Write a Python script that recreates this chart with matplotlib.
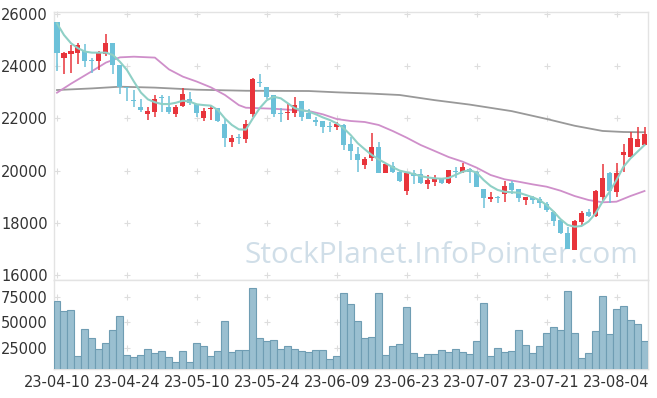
"""
Candlestick chart with moving averages and volume panel
"""

import matplotlib
matplotlib.use("Agg")
import matplotlib.pyplot as plt
import numpy as np

# trading days, one entry per candle
opens = [25700, 24300, 24480, 24520, 24570, 24250, 24210, 24460, 24890, 24050,
         23190, 22710, 22430, 22180, 22260, 22830, 22430, 22180, 22490, 22740,
         22540, 22030, 22350, 22390, 21790, 21080, 21270, 21200, 22160, 23380,
         23190, 22900, 22190, 22190, 22220, 22670, 22190, 21940, 21900, 21710,
         21690, 21750, 21020, 20640, 20210, 20500, 20890, 19920, 20190, 19960,
         19230, 19900, 19860, 19490, 19580, 19680, 19540, 19980, 19960, 20050,
         19960, 19300, 18910, 19000, 19100, 19540, 19300, 18870, 18980, 18910,
         18720, 18430, 18110, 17600, 16960, 18040, 18430, 18260, 18980, 19920,
         19190, 20600, 20530, 20920, 20980]
highs = [25700, 24550, 24810, 24890, 24850, 24330, 24570, 25220, 24900, 24050,
         23215, 23090, 22730, 22430, 22900, 22900, 22860, 22510, 23150, 23020,
         22560, 22390, 22510, 22390, 22000, 21360, 21400, 21940, 23550, 23690,
         23220, 22900, 22410, 22550, 22810, 22680, 22360, 22070, 21910, 21870,
         21870, 21790, 21300, 20890, 20530, 21430, 21110, 20280, 20320, 19970,
         19920, 20020, 20050, 19830, 19830, 19700, 20040, 20150, 20280, 20090,
         19970, 19300, 19170, 19010, 19610, 19600, 19300, 18990, 19030, 18980,
         18780, 18440, 18150, 17830, 18100, 18470, 18520, 19260, 20240, 19940,
         20280, 21020, 21490, 21680, 21690]
lows = [23800, 23700, 23730, 24080, 23980, 23730, 23850, 24390, 23690, 22920,
        22680, 22450, 22250, 21940, 22070, 22260, 22160, 22040, 22450, 22510,
        22070, 21910, 21940, 21880, 20920, 20890, 21020, 21050, 22040, 23190,
        22730, 22040, 21850, 21940, 22040, 21910, 21970, 21720, 21430, 21490,
        21560, 20790, 20410, 19960, 20050, 20370, 19920, 19900, 19920, 19570,
        19070, 19490, 19490, 19300, 19410, 19490, 19490, 19710, 19920, 19510,
        19380, 18560, 18790, 18750, 18790, 19100, 18790, 18680, 18720, 18560,
        18430, 17890, 17590, 16990, 16950, 17880, 18240, 18240, 18810, 18770,
        19000, 19960, 20510, 20890, 20980]
closes = [24500, 24500, 24580, 24820, 24210, 24210, 24530, 24890, 24030, 23190,
          23150, 22680, 22320, 22280, 22740, 22790, 22260, 22430, 22940, 22580,
          22220, 22280, 22410, 21910, 21240, 21260, 21250, 21790, 23510, 23340,
          22830, 22170, 22160, 22260, 22510, 22070, 21990, 21860, 21680, 21690,
          21770, 20980, 20760, 20410, 20450, 20890, 19920, 20240, 19960, 19610,
          19900, 19810, 19510, 19640, 19710, 19540, 20010, 19930, 20150, 19930,
          19390, 18960, 18990, 18960, 19410, 19260, 18960, 18980, 18870, 18750,
          18490, 18070, 17600, 17000, 18070, 18390, 18260, 19220, 19730, 19230,
          19920, 20700, 21240, 21210, 21400]
volumes = [71600, 61100, 62100, 16500, 43200, 34300, 23400, 29400, 42300, 56200,
           17500, 15500, 17500, 23400, 19400, 21400, 15500, 10500, 21400, 10500,
           29400, 26400, 16500, 21400, 51200, 20400, 22400, 22400, 83900, 34300,
           31300, 32300, 23400, 26400, 23400, 21400, 20400, 22400, 22400, 13500,
           16500, 79000, 68100, 51200, 34300, 35300, 79000, 17500, 26400, 28400,
           65100, 19400, 15500, 18500, 18500, 22400, 20400, 23400, 20700, 18500,
           31300, 69000, 16500, 24400, 20700, 21400, 42300, 27400, 19400, 26400,
           39300, 45200, 42300, 81000, 39300, 14500, 19400, 41300, 76000, 38300,
           63100, 66100, 52200, 48200, 31300]

# moving averages
ma5 = [25640, 25195, 24880, 24690, 24560, 24520, 24520, 24520, 24430, 24170,
       23855, 23410, 22990, 22730, 22620, 22550, 22550, 22600, 22680, 22640,
       22540, 22510, 22490, 22320, 22000, 21750, 21580, 21570, 22000, 22400,
       22700, 22830, 22770, 22580, 22390, 22320, 22260, 22160, 22040, 21940,
       21810, 21620, 21360, 21050, 20820, 20600, 20430, 20280, 20130, 20000,
       19935, 19870, 19790, 19740, 19706, 19690, 19720, 19840, 19960, 20020,
       19920, 19640, 19410, 19260, 19190, 19170, 19155, 19070, 18980, 18870,
       18680, 18430, 18140, 17920, 17850, 17880, 18050, 18360, 18810, 19190,
       19640, 20150, 20470, 20725, 20980]
ma20_idx = [0, 2, 5, 7, 9, 11, 14, 16, 18, 20, 22, 24, 26, 27, 31, 36, 38, 40,
            42, 44, 46, 48, 50, 52, 54, 56, 58, 60, 62, 64, 66, 68, 70, 72, 74,
            76, 78, 80, 82, 84]
ma20 = [22985, 23330, 23810, 24140, 24340, 24365, 24330, 23880, 23600, 23410,
        23190, 22900, 22510, 22410, 22370, 22284, 22158, 21977, 21901, 21863,
        21748, 21518, 21262, 20981, 20752, 20520, 20343, 20113, 19832, 19667,
        19576, 19474, 19385, 19231, 19028, 18874, 18786, 18811, 19028, 19219]
ma120_idx = [0, 5, 9, 14, 20, 27, 36, 40, 45, 49, 54, 59, 65, 70, 74, 78, 81, 84]
ma120 = [23088, 23150, 23215, 23180, 23100, 23060, 23050, 23000, 22950, 22897,
         22700, 22530, 22280, 21980, 21720, 21520, 21480, 21470]

tick_pos = [0, 10, 20, 30, 40, 50, 60, 70, 80]
tick_labels = ["23-04-10", "23-04-24", "23-05-10", "23-05-24", "23-06-09",
               "23-06-23", "23-07-07", "23-07-21", "23-08-04"]
price_ticks = [16000, 18000, 20000, 22000, 24000, 26000]
vol_ticks = [25000, 50000, 75000]

RED = "#e8343b"
BLUE = "#6cc1d9"
FRAME = "#e3e3e3"

fig = plt.figure(figsize=(6.57, 3.98), dpi=100)
ax = fig.add_axes([53.5 / 657, 1 - 280 / 398, (648 - 53.5) / 657, 268 / 398])
axv = fig.add_axes([53.5 / 657, 1 - 369 / 398, (648 - 53.5) / 657, 89 / 398])

x = np.arange(len(closes))
o = np.array(opens)
c = np.array(closes)
up = c >= o
colors = np.where(up, RED, BLUE)

# candles
ax.vlines(x, lows, highs, colors=colors, linewidth=1.1, zorder=3)
body_low = np.minimum(o, c)
body_h = np.maximum(np.abs(c - o), 30)
ax.bar(x, body_h, bottom=body_low, width=0.72, color=colors, zorder=4)

# moving averages
ax.plot(ma120_idx, ma120, color="#999999", linewidth=1.3, zorder=2)
ax.plot(ma20_idx, ma20, color="#cf8fca", linewidth=1.3, zorder=2)
ax.plot(x, ma5, color="#8fd0c6", linewidth=1.5, zorder=5)

ax.set_xlim(-0.5, 84.5)
ax.set_ylim(15810, 26077)
ax.set_yticks(price_ticks)
ax.set_xticks([])

# watermark
ax.text(0.652, 0.09, "StockPlanet.InfoPointer.com", transform=ax.transAxes,
        ha="center", va="center", fontsize=21.5, family="Open Sans",
        color="#cbdbe6", alpha=0.9, zorder=1)

# volume bars
axv.bar(x, volumes, width=1.0, color="#9abfd0", edgecolor="#6f9db3",
        linewidth=0.8, zorder=3)
axv.set_xlim(-0.5, 84.5)
axv.set_ylim(3900, 92000)
axv.set_yticks(vol_ticks)
axv.set_xticks(tick_pos)
axv.set_xticklabels(tick_labels)

# small plus markers instead of grid lines
gx, gy = np.meshgrid(tick_pos, price_ticks)
ax.scatter(gx.ravel(), gy.ravel(), marker="+", s=18, color="#dddddd",
           linewidths=0.8, zorder=1, clip_on=False)
gx, gy = np.meshgrid(tick_pos, vol_ticks)
axv.scatter(gx.ravel(), gy.ravel(), marker="+", s=18, color="#dddddd",
            linewidths=0.8, zorder=1)

for a in (ax, axv):
    for s in a.spines.values():
        s.set_color(FRAME)
        s.set_linewidth(1)
    a.tick_params(length=0, labelsize=10.5, labelcolor="#333333", pad=4)

fig.savefig("out.png", dpi=100)
